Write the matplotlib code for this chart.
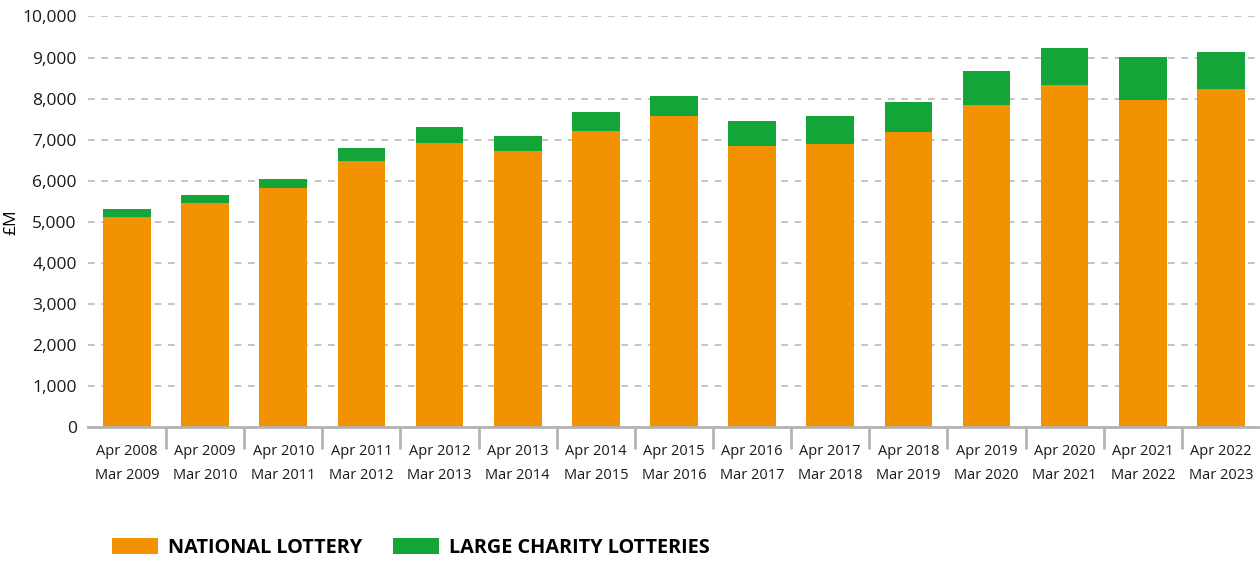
import matplotlib
matplotlib.use("Agg")
import matplotlib.pyplot as plt
import numpy as np
from matplotlib.patches import Patch

# Data (in £M)
periods = ["Apr 2008\nMar 2009", "Apr 2009\nMar 2010", "Apr 2010\nMar 2011",
           "Apr 2011\nMar 2012", "Apr 2012\nMar 2013", "Apr 2013\nMar 2014",
           "Apr 2014\nMar 2015", "Apr 2015\nMar 2016", "Apr 2016\nMar 2017",
           "Apr 2017\nMar 2018", "Apr 2018\nMar 2019", "Apr 2019\nMar 2020",
           "Apr 2020\nMar 2021", "Apr 2021\nMar 2022", "Apr 2022\nMar 2023"]
national_lottery = [5115, 5455, 5820, 6480, 6930, 6735, 7215, 7580, 6855,
                    6905, 7195, 7835, 8330, 7960, 8235]
totals = [5310, 5650, 6040, 6800, 7315, 7095, 7675, 8060, 7460,
          7580, 7915, 8675, 9230, 9005, 9130]
charity_lotteries = [t - n for t, n in zip(totals, national_lottery)]

orange = "#F39200"
green = "#14A538"

plt.rcParams['font.family'] = ['Open Sans', 'DejaVu Sans']

fig = plt.figure(figsize=(12.6, 5.61), dpi=100)
ax = fig.add_axes([0.0698, 0.238, 0.9302, 0.7326])

x = np.arange(len(periods))
ax.bar(x, national_lottery, width=0.61, color=orange, zorder=3)
ax.bar(x, charity_lotteries, width=0.61, bottom=national_lottery, color=green, zorder=3)

ax.set_xlim(-0.5, len(periods) - 0.5)
ax.set_ylim(0, 10000)
ax.set_yticks(np.arange(0, 10001, 1000))
ax.set_yticklabels([f"{v:,}" for v in range(0, 10001, 1000)], fontsize=12.5, color="#1a1a1a")
ax.yaxis.grid(True, linestyle=(0, (4, 4)), color="#BBBBBB", linewidth=1.2, zorder=0)
ax.tick_params(axis='y', length=0, pad=8)

ax.set_xticks(x)
ax.set_xticklabels(periods, fontsize=10.5, color="#1a1a1a", linespacing=1.8)
ax.tick_params(axis='x', which='major', length=0, pad=12)
ax.set_xticks(x[:-1] + 0.5, minor=True)
ax.tick_params(axis='x', which='minor', length=16, width=2, color="#B3B3B3")

for side in ["left", "right", "top"]:
    ax.spines[side].set_visible(False)
ax.spines["bottom"].set_color("#B3B3B3")
ax.spines["bottom"].set_linewidth(2)
ax.spines["bottom"].set_zorder(4)

ax.set_ylabel("£M", fontsize=12.5, labelpad=2)

handles = [Patch(facecolor=orange, label="NATIONAL LOTTERY"),
           Patch(facecolor=green, label="LARGE CHARITY LOTTERIES")]
fig.legend(handles=handles, loc="lower left", bbox_to_anchor=(0.075, -0.026),
           ncol=2, frameon=False, handlelength=2.3, handleheight=0.85,
           columnspacing=1.55, handletextpad=0.5,
           prop={'weight': 'bold', 'size': 14.3})

fig.savefig("out.png", dpi=100)
plt.close(fig)
